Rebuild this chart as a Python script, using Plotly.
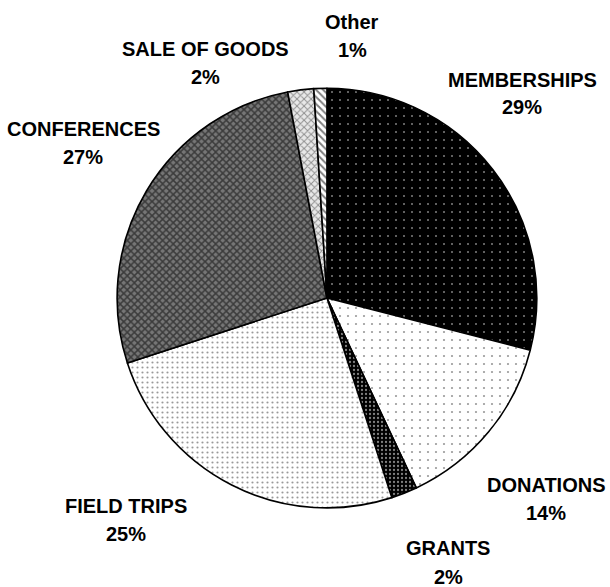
import plotly.graph_objects as go

categories = ["MEMBERSHIPS", "DONATIONS", "GRANTS", "FIELD TRIPS", "CONFERENCES", "SALE OF GOODS", "Other"]
values = [29, 14, 2, 25, 27, 2, 1]
pct_labels = ["29%", "14%", "2%", "25%", "27%", "2%", "1%"]

# pattern styles per slice
shapes = [".", ".", ".", ".", "x", "x", "\\"]
fgcolors = ["#ffffff", "#333333", "#ffffff", "#333333", "#000000", "#333333", "#000000"]
bgcolors = ["#000000", "#ffffff", "#000000", "#ffffff", "#767676", "#e8e8e8", "#ffffff"]
psizes = [8, 8, 4, 5, 5, 5, 5]
solidities = [0.05, 0.06, 0.25, 0.15, 0.5, 0.35, 0.4]

# label positions in pixels: (x centre, y of name line, y of percent line)
label_px = [(522, 80, 107), (546, 485, 513), (448, 548, 577), (126, 506, 534),
            (83, 129, 157), (205, 49, 77), (352, 22, 50)]

W, H = 610, 587
fig = go.Figure()
fig.add_trace(go.Pie(
    values=values,
    labels=categories,
    sort=False,
    direction="clockwise",
    rotation=0,
    textinfo="none",
    hoverinfo="skip",
    showlegend=False,
    domain=dict(x=[0.192, 0.880], y=[0.1345, 0.850]),
    marker=dict(
        colors=bgcolors,
        line=dict(color="#000000", width=1.6),
        pattern=dict(shape=shapes, fgcolor=fgcolors, bgcolor=bgcolors,
                     size=psizes, solidity=solidities, fillmode="overlay"),
    ),
))

font = dict(family="Liberation Sans, Arial, sans-serif", size=20, color="#000000")
for cat, pct, (px, py1, py2) in zip(categories, pct_labels, label_px):
    fig.add_annotation(x=px / W, y=1 - py1 / H, xref="paper", yref="paper",
                       text=f"<b>{cat}</b>", showarrow=False,
                       xanchor="center", yanchor="middle", font=font)
    fig.add_annotation(x=px / W, y=1 - py2 / H, xref="paper", yref="paper",
                       text=f"<b>{pct}</b>", showarrow=False,
                       xanchor="center", yanchor="middle", font=font)

fig.update_layout(
    width=W, height=H,
    margin=dict(l=0, r=0, t=0, b=0),
    paper_bgcolor="#ffffff", plot_bgcolor="#ffffff",
)

fig.write_html("out.html")
